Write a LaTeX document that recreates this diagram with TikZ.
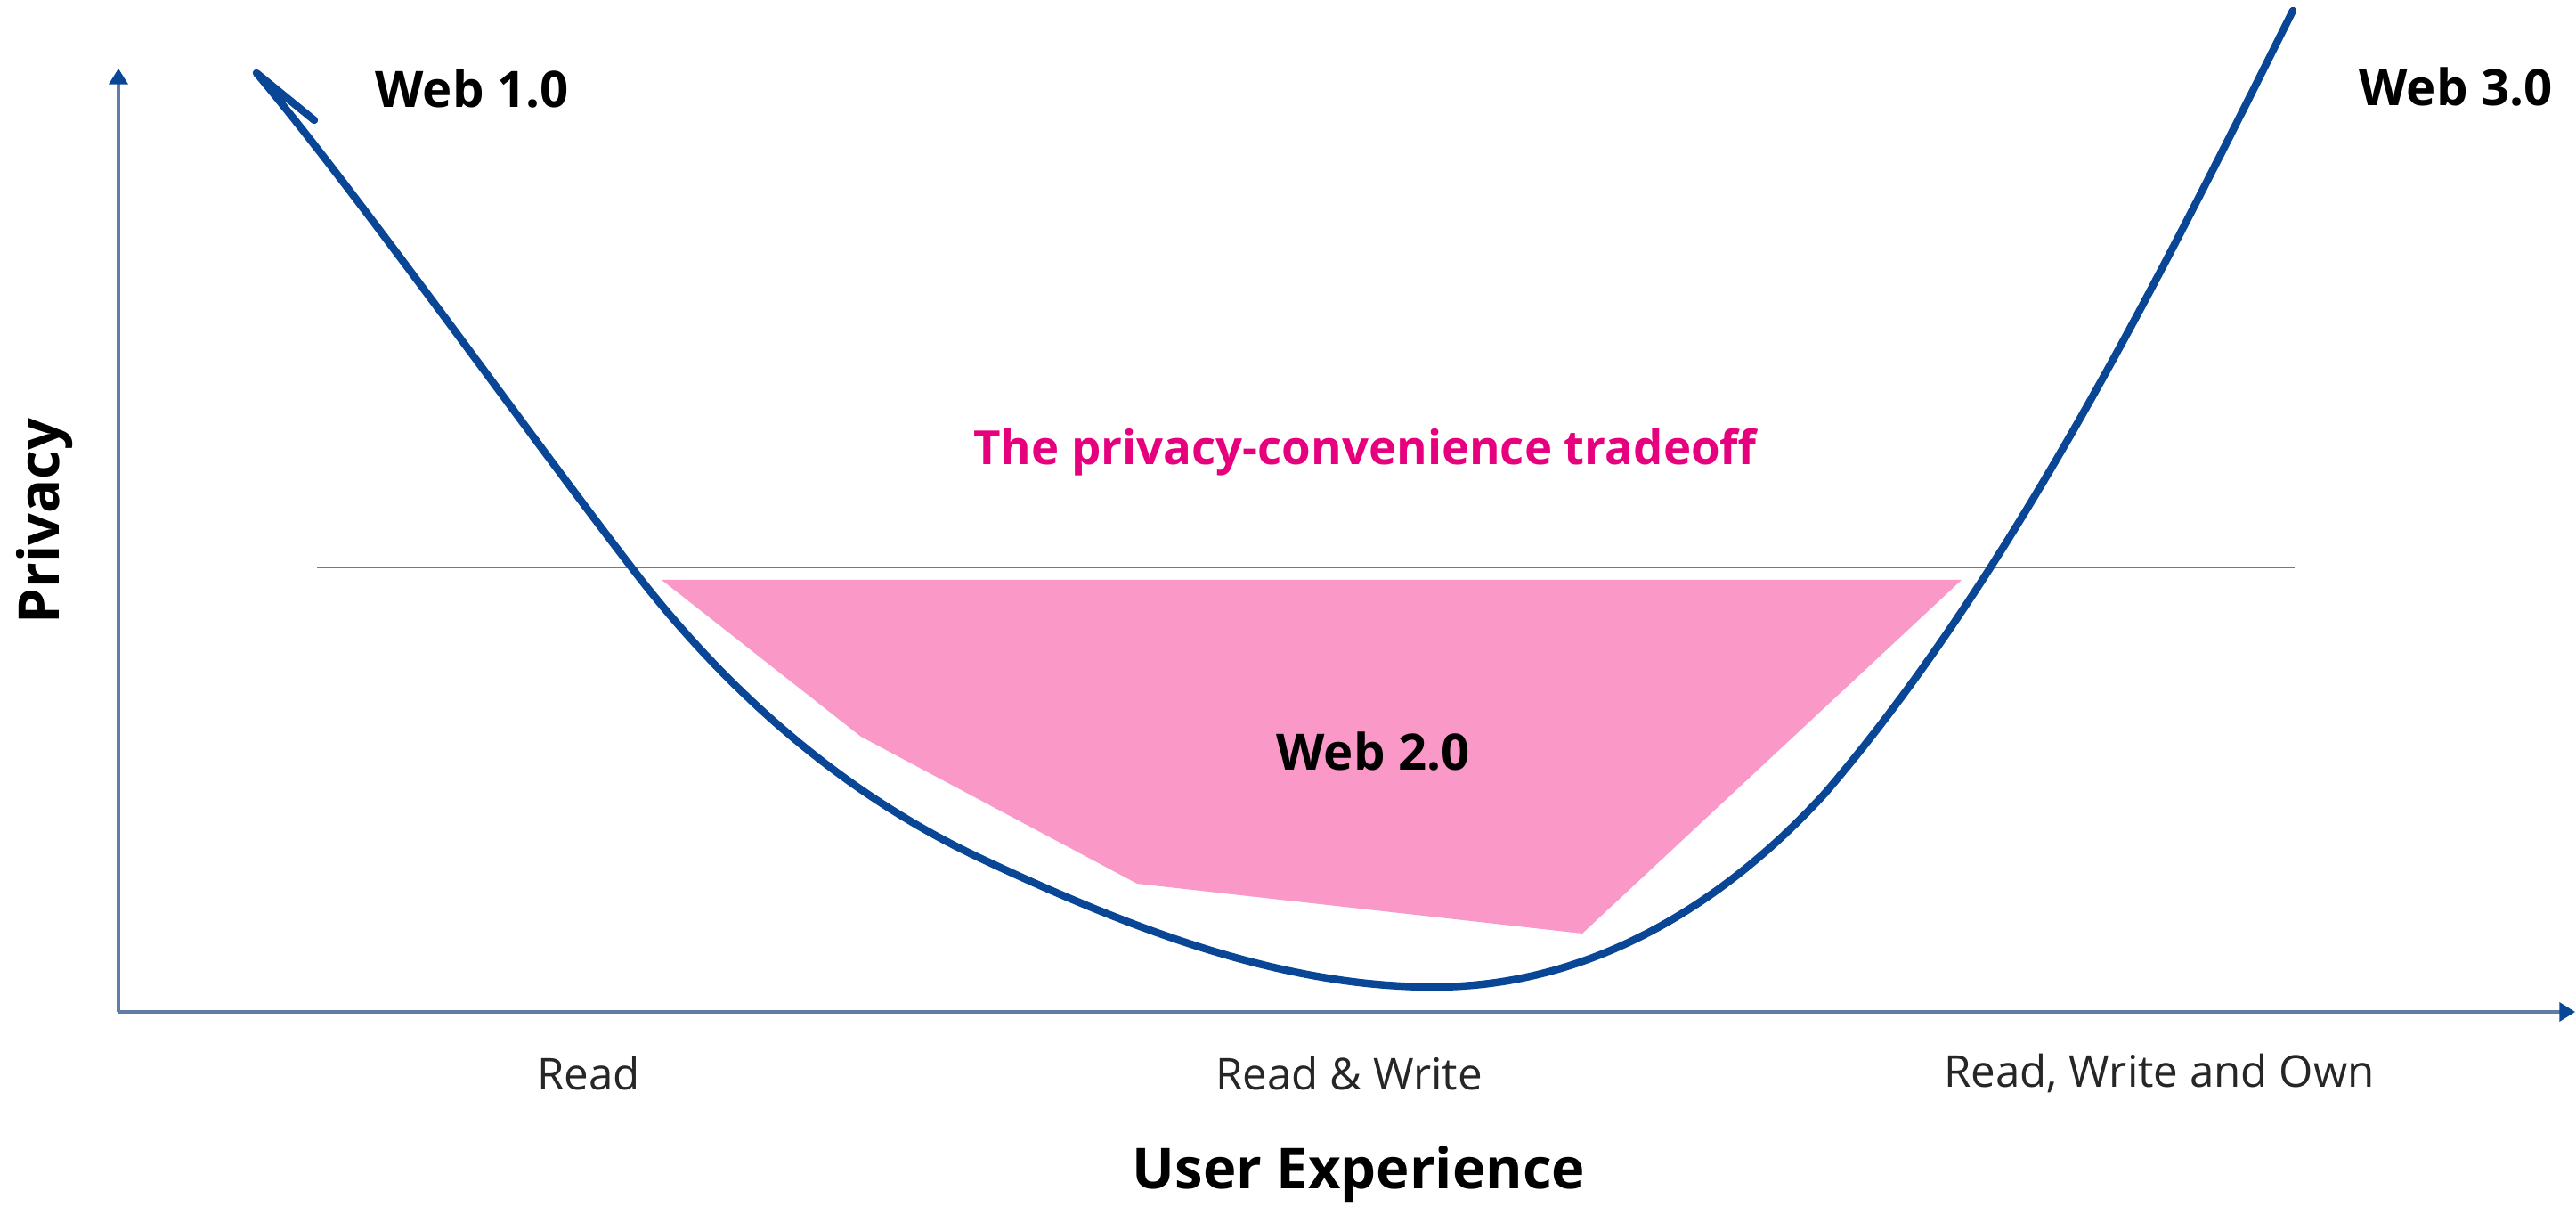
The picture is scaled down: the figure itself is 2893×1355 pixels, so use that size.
\documentclass[tikz,border=0pt]{standalone}
\usepackage{fontspec}
\setmainfont{Open Sans}
\usepackage{xcolor}
\usepackage{tikz}
\usetikzlibrary{arrows.meta,positioning}
\definecolor{webblue}{RGB}{10,70,150}
\definecolor{axisgrey}{RGB}{95,125,165}
\definecolor{tradepink}{RGB}{250,152,200}
\definecolor{trademagenta}{RGB}{230,0,126}
\tikzset{
    axisline/.style={draw=axisgrey, line width=0.9pt, -{Triangle[length=5pt,width=6pt,color=webblue]}},
    curveline/.style={draw=webblue, line width=2.4pt, line cap=round, line join=round},
    levelline/.style={draw=axisgrey, line width=0.7pt},
    webtag/.style={font=\bfseries\fontsize{16}{18}\selectfont, text=black, inner sep=0pt},
    ticktext/.style={font=\fontsize{14}{16}\selectfont, text=black!85, inner sep=0pt},
    axistitle/.style={font=\bfseries\fontsize{18}{20}\selectfont, text=black, inner sep=0pt}}

\begin{document}
\begin{tikzpicture}[x=0.01cm,y=-0.01cm]
    \useasboundingbox (0,0) rectangle (2893,1355);
    % axes
    \coordinate (O) at (133,1136);
    \coordinate (Ytip) at (133,77);
    \coordinate (Xtip) at (2892,1136);
    \draw[axisline] (O) -- (Ytip);
    \draw[axisline] (O) -- (Xtip);

    % tradeoff area
    \fill[tradepink] (743,651) -- (2203,651) -- (1777,1048) -- (1277,992) -- (967,827) -- cycle;

    % level line
    \coordinate (L1) at (356,637);
    \coordinate (L2) at (2577,637);
    \draw[levelline] (L1) -- (L2);

    % the curve
    \draw[curveline] (353,135) -- (288,82)
        .. controls (400,215) and (580,469) .. (710,638)
        .. controls (815,775) and (945,890) .. (1100,963)
        .. controls (1270,1043) and (1440,1108) .. (1610,1108)
        .. controls (1800,1108) and (1950,1000) .. (2050,890)
        .. controls (2260,645) and (2425,312) .. (2575,12);

    % labels
    \node (W1)[webtag] at (530,100) {Web 1.0};
    \node (W3)[webtag] at (2758,98) {Web 3.0};
    \node (W2)[webtag] at (1542,843) {Web 2.0};
    \node (T)[webtag,text=trademagenta,font=\bfseries\fontsize{15}{17}\selectfont] at (1533,508) {The privacy-convenience tradeoff};

    \node (R)[ticktext] at (661,1205) {Read};
    \node (RW)[ticktext] at (1515,1205) {Read \& Write};
    \node (RWO)[ticktext] at (2425,1205) {Read, Write and Own};

    \node (UX)[axistitle] at (1526,1318) {User Experience};
    \node (P)[axistitle,rotate=90] at (50,585) {Privacy};
\end{tikzpicture}
\end{document}
